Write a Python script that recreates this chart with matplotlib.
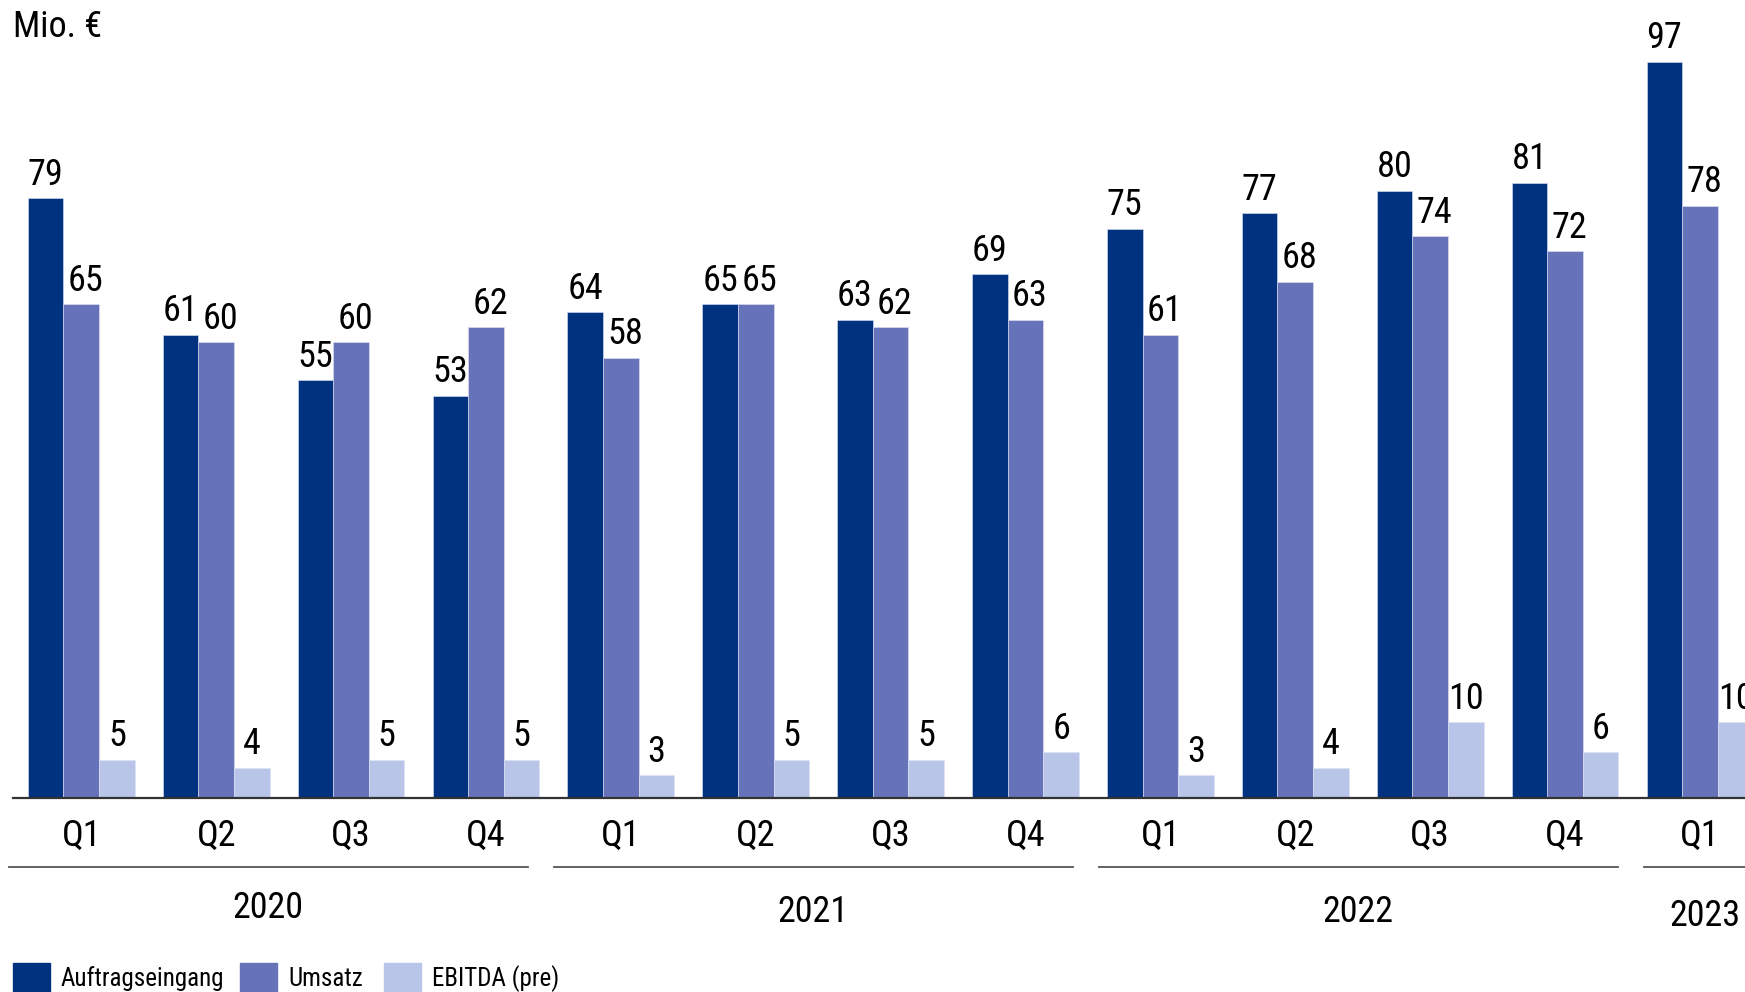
import matplotlib
matplotlib.use("Agg")
import matplotlib.pyplot as plt
from matplotlib.patches import Rectangle

plt.rcParams['font.family'] = ['Roboto Condensed', 'Archivo Narrow', 'PT Sans Narrow',
                               'Liberation Sans', 'DejaVu Sans']

# data (Mio. EUR per quarter)
quarters = ['Q1', 'Q2', 'Q3', 'Q4', 'Q1', 'Q2', 'Q3', 'Q4', 'Q1', 'Q2', 'Q3', 'Q4', 'Q1']
years = ['2020', '2021', '2022', '2023']
auftragseingang = [79, 61, 55, 53, 64, 65, 63, 69, 75, 77, 80, 81, 97]
umsatz = [65, 60, 60, 62, 58, 65, 62, 63, 61, 68, 74, 72, 78]
ebitda = [5, 4, 5, 5, 3, 5, 5, 6, 3, 4, 10, 6, 10]

series = [('Auftragseingang', auftragseingang, '#00327f'),
          ('Umsatz', umsatz, '#6773b9'),
          ('EBITDA (pre)', ebitda, '#b9c5e8')]

W, H = 1745, 992
fig = plt.figure(figsize=(W / 100, H / 100), dpi=100)
ax = fig.add_axes([13 / W, 1 - 798 / H, 1 - 13 / W, 798 / H])

bw = 0.264
label_dx = [0, 3, 0]  # small nudge so neighbouring labels don't touch
for k, (name, vals, col) in enumerate(series):
    xs = [i + (k - 1) * bw for i in range(len(vals))]
    ax.bar(xs, vals, width=bw, color=col, edgecolor='#dfe3f3', linewidth=0.4)
    for x, v in zip(xs, vals):
        ax.annotate(str(v), (x, v), xytext=(label_dx[k], 4), textcoords='offset points',
                    ha='center', va='bottom', fontsize=26, annotation_clip=False)

ax.set_xlim(-0.506, 12.334)
ax.set_ylim(0, 105.1)
for s in ['top', 'right', 'left']:
    ax.spines[s].set_visible(False)
ax.spines['bottom'].set_color('#333333')
ax.spines['bottom'].set_linewidth(1.6)
ax.set_yticks([])
ax.set_xticks([])

# quarter labels
px = 0.72  # points per pixel
for i, q in enumerate(quarters):
    ax.annotate(q, (i, 0), xycoords=('data', 'axes fraction'),
                xytext=(0, -38 * px), textcoords='offset points',
                ha='center', va='center', fontsize=26, annotation_clip=False)

# year brackets (pitch slightly wider than 4 groups, as in the original)
tr = ax.get_xaxis_transform()
year_dy = [-110, -114, -114, -118]
pitch = 4.04
for j, yr in enumerate(years):
    x0 = pitch * j - 0.536
    x1 = pitch * j + 3.31
    ax.plot([x0, x1], [-69 / 798, -69 / 798], transform=tr, color='#555555',
            lw=1.3, clip_on=False)
    xc = (x0 + x1) / 2 if j < 3 else 4 * j + 0.04
    ax.text(xc, year_dy[j] / 798, yr, transform=tr, ha='center', va='center', fontsize=26)

fig.text(13 / W, 1 - 27 / H, 'Mio. €', ha='left', va='center', fontsize=26)

# legend
leg_x = [13, 240, 384]
for (name, vals, col), lx in zip(series, leg_x):
    fig.patches.append(Rectangle((lx / W, 1 - 1000 / H), 37 / W, 37 / H,
                                 transform=fig.transFigure, color=col))
    fig.text((lx + 48) / W, 1 - 986 / H, name, ha='left', va='baseline', fontsize=18)

fig.savefig('out.png', dpi=100)
